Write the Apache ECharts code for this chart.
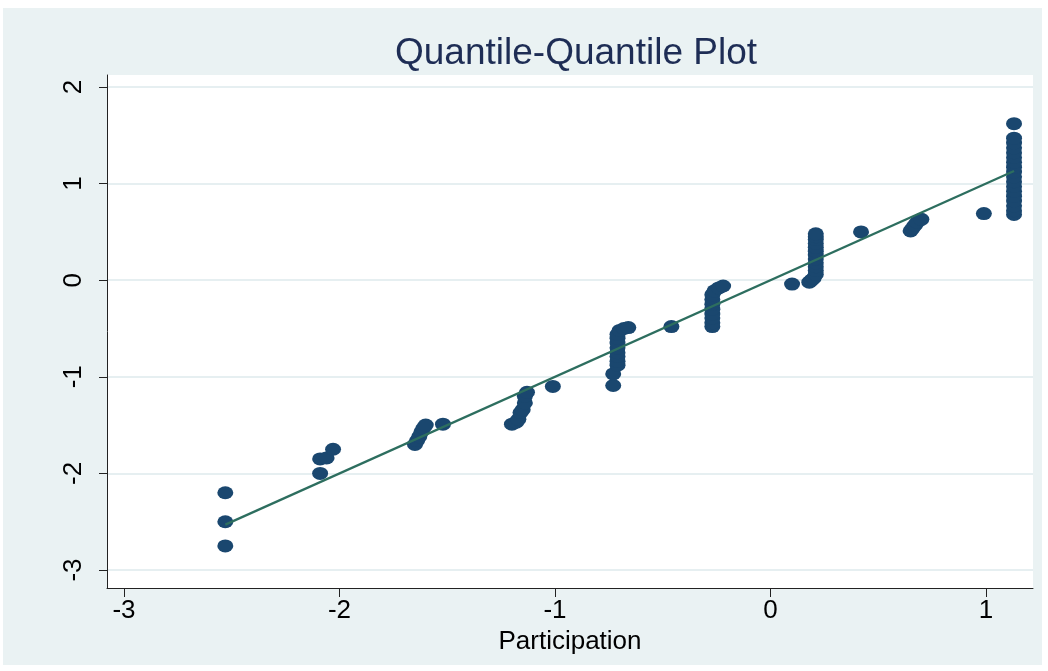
<!DOCTYPE html>
<html>
<head>
<meta charset="utf-8">
<script src="https://cdn.jsdelivr.net/npm/echarts@6/dist/echarts.min.js"></script>
<style>
html,body{margin:0;padding:0;background:#fff;}
#chart{width:1048px;height:671px;}
</style>
</head>
<body>
<div id="chart"></div>
<script>
// Participation quantiles (x) and matching quantiles (y), sorted
const participation = [
  -2.53, -2.53, -2.53, -2.09, -2.09, -2.06, -2.03,
  -1.65, -1.64, -1.63, -1.62, -1.61, -1.60, -1.52,
  -1.20, -1.18, -1.17, -1.16, -1.15, -1.14, -1.14, -1.13, -1.01,
  -0.73, -0.73, -0.71, -0.71, -0.71, -0.71, -0.71, -0.71, -0.71, -0.71, -0.70, -0.68, -0.66,
  -0.46,
  -0.27, -0.27, -0.27, -0.27, -0.27, -0.27, -0.27, -0.27, -0.26, -0.24, -0.22,
  0.10, 0.18, 0.19, 0.20, 0.21, 0.21, 0.21, 0.21, 0.21, 0.21, 0.21, 0.21, 0.21, 0.21, 0.21, 0.21,
  0.42, 0.65, 0.66, 0.67, 0.68, 0.70, 0.99,
  1.13, 1.13, 1.13, 1.13, 1.13, 1.13, 1.13, 1.13, 1.13, 1.13, 1.13, 1.13, 1.13, 1.13, 1.13, 1.13, 1.13, 1.13
];
const quantiles = [
  -2.75, -2.50, -2.20, -2.00, -1.85, -1.84, -1.75,
  -1.70, -1.66, -1.62, -1.57, -1.53, -1.50, -1.49,
  -1.49, -1.47, -1.44, -1.37, -1.34, -1.27, -1.20, -1.16, -1.10,
  -1.09, -0.97, -0.88, -0.84, -0.79, -0.75, -0.70, -0.65, -0.60, -0.56, -0.52, -0.50, -0.49,
  -0.48,
  -0.48, -0.44, -0.39, -0.35, -0.30, -0.25, -0.20, -0.15, -0.11, -0.08, -0.06,
  -0.04, -0.02, 0.00, 0.02, 0.06, 0.10, 0.14, 0.18, 0.22, 0.26, 0.30, 0.34, 0.38, 0.42, 0.45, 0.48,
  0.50, 0.51, 0.54, 0.57, 0.60, 0.63, 0.69,
  0.68, 0.72, 0.77, 0.82, 0.87, 0.92, 0.97, 1.02, 1.07, 1.12, 1.17, 1.22, 1.27, 1.32, 1.37, 1.42, 1.47, 1.62
];
// Reference line (y = x) endpoints
const refX = [-2.53, 1.13];
const refY = [-2.53, 1.13];
// Tick labels
const xTicks = [-3, -2, -1, 0, 1];
const yTicks = [-3, -2, -1, 0, 1, 2];

const points = participation.map((x, i) => [x, quantiles[i]]);
const refLine = refX.map((x, i) => [x, refY[i]]);

const FONT = 'Liberation Sans, Arial, sans-serif';
const chart = echarts.init(document.getElementById('chart'), null, {renderer: 'canvas'});
chart.setOption({
  animation: false,
  backgroundColor: '#EAF2F3',
  graphic: [
    {type: 'rect', shape: {x: 0, y: 0, width: 1048, height: 8}, style: {fill: '#ffffff'}, silent: true},
    {type: 'rect', shape: {x: 0, y: 0, width: 3, height: 671}, style: {fill: '#ffffff'}, silent: true},
    {type: 'rect', shape: {x: 1042, y: 0, width: 6, height: 671}, style: {fill: '#ffffff'}, silent: true},
    {type: 'rect', shape: {x: 0, y: 665, width: 1048, height: 6}, style: {fill: '#ffffff'}, silent: true}
  ],
  title: {
    text: 'Quantile-Quantile Plot',
    left: 571,
    top: 30,
    textAlign: 'center',
    textStyle: {fontFamily: FONT, fontSize: 37, fontWeight: 'normal', color: '#1E2D55'}
  },
  grid: {
    left: 107, right: 15, top: 75, bottom: 83,
    show: true, backgroundColor: '#ffffff', borderWidth: 0
  },
  xAxis: {
    type: 'value',
    min: -3.079, max: 1.218,
    name: 'Participation',
    nameLocation: 'middle',
    nameGap: 32,
    nameTextStyle: {fontFamily: FONT, fontSize: 26, color: '#000'},
    axisLine: {show: true, onZero: false, lineStyle: {color: '#222', width: 1}},
    axisTick: {show: true, length: 9, customValues: xTicks, lineStyle: {color: '#222', width: 1}},
    axisLabel: {customValues: xTicks, margin: 10, fontFamily: FONT, fontSize: 26, color: '#000'},
    splitLine: {show: false}
  },
  yAxis: {
    type: 'value',
    min: -3.186, max: 2.124,
    axisLine: {show: true, onZero: false, lineStyle: {color: '#222', width: 1}},
    axisTick: {show: true, length: 8, customValues: yTicks, lineStyle: {color: '#222', width: 1}},
    axisLabel: {customValues: yTicks, margin: 20, rotate: 90, fontFamily: FONT, fontSize: 26, color: '#000'},
    splitLine: {show: true, lineStyle: {color: '#E6EFF1', width: 2}}
  },
  series: [
    {
      type: 'scatter',
      data: points,
      symbol: 'circle',
      symbolSize: [16, 13],
      itemStyle: {color: '#1A476F', opacity: 1},
      z: 2
    },
    {
      type: 'line',
      data: refLine,
      symbol: 'none',
      lineStyle: {color: '#2D6E5F', width: 2.2},
      z: 3
    }
  ]
});
</script>
</body>
</html>
